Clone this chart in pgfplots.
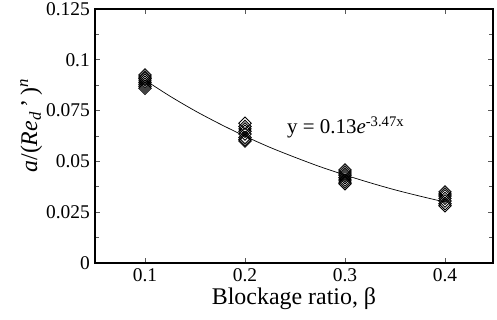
\documentclass[border=0pt]{standalone}
\usepackage{pgfplots}
\pgfplotsset{compat=1.18}
\usepackage{fontspec}
\setmainfont{Liberation Serif}
\begin{document}
\begin{tikzpicture}[x=1bp,y=1bp]
\begin{axis}[
  scale only axis,
  width=398bp, height=254bp,
  xmin=0.05, xmax=0.448,
  ymin=0, ymax=0.125,
  xtick={0.1,0.2,0.3,0.4},
  xticklabels={0.1,0.2,0.3,0.4},
  ytick={0,0.025,0.05,0.075,0.1,0.125},
  yticklabels={0,0.025,0.05,0.075,0.1,0.125},
  minor y tick num=1,
  tick align=inside,
  major tick length=5bp,
  minor tick length=4bp,
  every tick/.style={gray!70!black, line width=0.8pt},
  axis line style={line width=1.1pt},
  tick label style={font=\fontsize{19.5}{20}\selectfont},
  xticklabel style={inner sep=2bp, yshift=-3bp},
  yticklabel style={inner sep=2bp, xshift=-3bp},
  every axis x label/.style={at={(axis description cs:0.5,-0.142)}, anchor=center, font=\fontsize{24}{25}\selectfont},
  every axis y label/.style={at={(axis description cs:-0.16,0.54)}, anchor=center, rotate=90, font=\fontsize{24}{25}\selectfont},
  xlabel={Blockage ratio, β},
  ylabel={\textit{a}/(\textit{Re}\textsubscript{\textit{d}}\,’\,)\textsuperscript{\textit{n}}},
  scaled ticks=false,
  /pgf/number format/assume math mode=true,
  clip=false,
]
\addplot[only marks, mark=square, mark size=4.4bp, mark options={rotate=45, line width=0.9pt, draw=black, fill=none}] coordinates {
  (0.1,0.0925) (0.1,0.0915) (0.1,0.0908) (0.1,0.0900) (0.1,0.0890) (0.1,0.0880) (0.1,0.0870) (0.1,0.0860)
  (0.2,0.0688) (0.2,0.0672) (0.2,0.0660) (0.2,0.0648) (0.2,0.0635) (0.2,0.0618) (0.2,0.0608) (0.2,0.0600)
  (0.3,0.0458) (0.3,0.0448) (0.3,0.0438) (0.3,0.0430) (0.3,0.0420) (0.3,0.0408) (0.3,0.0398) (0.3,0.0390)
  (0.4,0.0350) (0.4,0.0340) (0.4,0.0330) (0.4,0.0318) (0.4,0.0305) (0.4,0.0292) (0.4,0.0282)
};
\addplot[black, line width=0.7pt, smooth] coordinates {
  (0.1,0.0900) (0.125,0.0821) (0.15,0.0749) (0.175,0.0684) (0.2,0.0624)
  (0.225,0.0569) (0.25,0.0520) (0.275,0.0474) (0.3,0.0433) (0.325,0.0395)
  (0.35,0.0360) (0.375,0.0329) (0.4,0.0300)
};
\node[anchor=base west, font=\fontsize{21}{22}\selectfont, inner sep=0pt] at (axis cs:0.242,0.0635)
  {y = 0.13\textit{e}\textsuperscript{-3.47x}};
\end{axis}
\pgfresetboundingbox
\path[use as bounding box] ([xshift=-95bp,yshift=-57bp]current axis.south west) rectangle ([xshift=4bp,yshift=9bp]current axis.north east);
\end{tikzpicture}
\end{document}
